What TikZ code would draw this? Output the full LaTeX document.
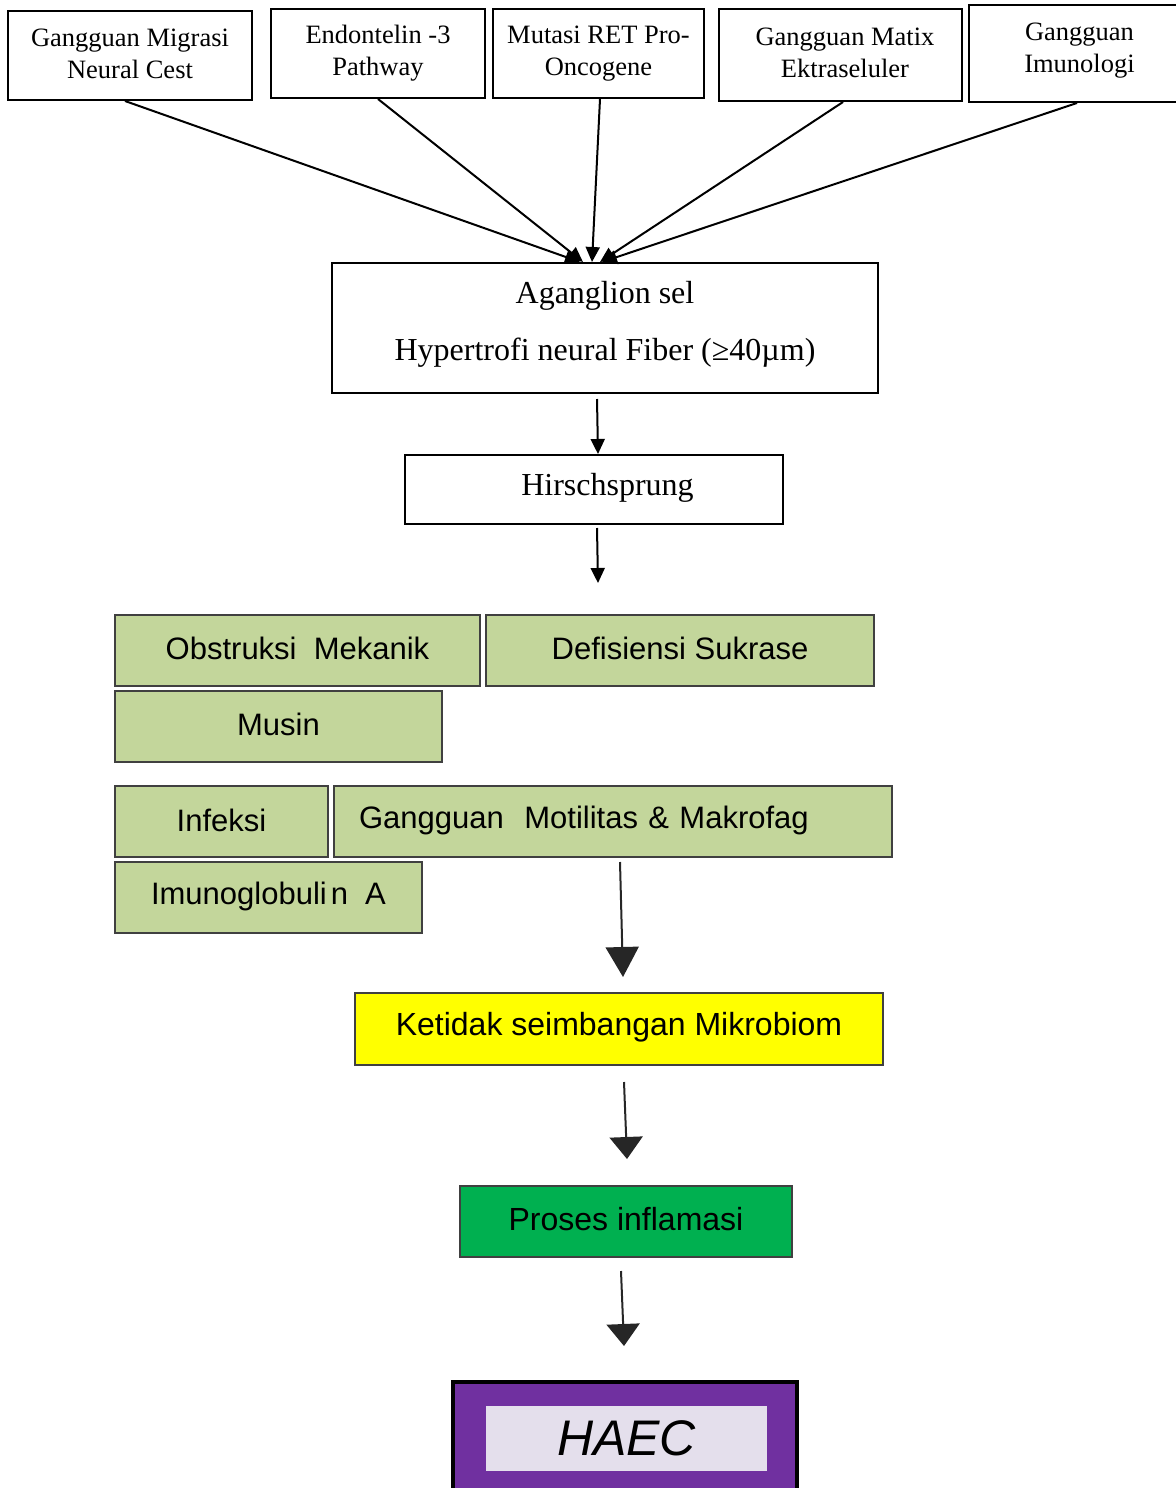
\documentclass[tikz,border=0pt]{standalone}
\usepackage{fontspec}
\setmainfont{Liberation Serif}
\newfontfamily\arialf{Liberation Sans}
\usetikzlibrary{arrows.meta}
\definecolor{olivebox}{HTML}{C3D69B}
\definecolor{yellowbox}{HTML}{FFFF00}
\definecolor{greenbox}{HTML}{00B050}
\definecolor{purplebox}{HTML}{7030A0}
\definecolor{lilacbox}{HTML}{E4DFEC}
\newcommand{\liftlines}[2]{\raisebox{#1}[\height][\depth]{\begin{tabular}{@{}c@{}}#2\end{tabular}}}
\newcommand{\lift}[2]{\raisebox{#1}[\height][\depth]{#2}}
\begin{document}
\begin{tikzpicture}[x=0.5pt,y=-0.5pt,
  topbox/.style={draw, line width=1pt, fill=white, inner sep=0pt, align=center,
    font=\fontsize{13.25}{16}\selectfont},
  midbox/.style={draw, line width=1pt, fill=white, inner sep=0pt, align=center,
    font=\fontsize{16}{28.5}\selectfont},
  oliveb/.style={draw=black!75, line width=1pt, fill=olivebox, inner sep=0pt,
    minimum height=35.5pt, font=\arialf\fontsize{15.5}{18}\selectfont},
  colb/.style={draw=black!75, line width=1pt, inner sep=0pt,
    font=\arialf\fontsize{16}{18}\selectfont},
  conn/.style={line width=1pt, -{Triangle[length=7.5pt,width=7pt]}},
  bigarrow/.style={line width=1pt, draw=black!85, -{Triangle[length=11pt,width=16.5pt]}},
  bigarrowlong/.style={line width=1pt, draw=black!85, -{Triangle[length=15pt,width=16.5pt]}}
]
\useasboundingbox (0,0) rectangle (1176,1488);
\clip (0,0) rectangle (1176,1488);

% top boxes
\node[topbox, minimum width=122pt, minimum height=44.5pt] (t1) at (130,55.5) {\liftlines{-0.5pt}{Gangguan Migrasi\\Neural Cest}};
\node[topbox, minimum width=107pt, minimum height=44.5pt] (t2) at (378,53.5) {\liftlines{0pt}{Endontelin -3\\Pathway}};
\node[topbox, minimum width=105.5pt, minimum height=44.5pt] (t3) at (598.5,53.5) {\liftlines{0pt}{Mutasi RET Pro-\\Oncogene}};
\node[topbox, minimum width=121.5pt, minimum height=46pt] (t4) at (840.5,55) {\liftlines{0pt}{\hspace*{4.5pt}Gangguan Matix\\\hspace*{4.5pt}Ektraseluler}};
\node[topbox, minimum width=106.5pt, minimum height=48.5pt] (t5) at (1075.5,53.5) {\liftlines{1.5pt}{\hspace*{4pt}Gangguan\\\hspace*{4pt}Imunologi}};

% central boxes
\node[midbox, minimum width=273pt, minimum height=65pt] (ag) at (605,328)
  {\liftlines{3.5pt}{Aganglion sel\\Hypertrofi neural Fiber (≥40µm)}};
\node[midbox, minimum width=189pt, minimum height=34.5pt] (hs) at (594,489.5) {\lift{1pt}{\hspace*{13.5pt}Hirschsprung}};
\coordinate (hsend) at (598,583);

% converging connectors
\draw[conn] ([xshift=-2.5pt]t1.south) -- ([xshift=-12.5pt]ag.north);
\draw[conn] (t2.south) -- ([xshift=-11pt]ag.north);
\draw[conn] ([xshift=0.75pt]t3.south) -- ([xshift=-6.5pt]ag.north);
\draw[conn] ([xshift=1.25pt]t4.south) -- ([xshift=-2.5pt]ag.north);
\draw[conn] ([xshift=0.75pt]t5.south) -- ([xshift=-1.5pt]ag.north);

\draw[conn] ([xshift=-4pt,yshift=-2.5pt]ag.south) -- ([xshift=2pt]hs.north);
\draw[conn] ([xshift=1.5pt,yshift=-1.5pt]hs.south) -- (hsend);

% olive boxes
\node[oliveb, minimum width=182.5pt] (g1) at (297.5,650.5) {\lift{1pt}{Obstruksi\ \ Mekanik}};
\node[oliveb, minimum width=194pt] (g2) at (680,650.5) {\lift{1pt}{Defisiensi Sukrase}};
\node[oliveb, minimum width=163.5pt] (g3) at (278.5,726.5) {\lift{1pt}{Musin}};
\node[oliveb, minimum width=106.5pt] (g4) at (221.5,821.5) {\lift{0.5pt}{Infeksi}};
\node[oliveb, text width=254pt, inner xsep=12.5pt, align=left] (g5) at (613,821.5) {\lift{0.5pt}{Gangguan\ \ Motilitas \& Makrofag}};
\node[oliveb, minimum width=153.5pt] (g6) at (268.5,897.5) {\lift{0.5pt}{Imunoglobuli\hspace{2pt}n\ \ A}};

% lower chain
\node[colb, fill=yellowbox, minimum width=264pt, minimum height=36pt] (ye) at (619,1029) {\lift{1pt}{Ketidak seimbangan Mikrobiom}};
\node[colb, fill=greenbox, minimum width=166pt, minimum height=35.5pt] (pr) at (626,1221.5) {\lift{1pt}{Proses inflamasi}};
\node[draw=black, line width=2pt, fill=purplebox, minimum width=172pt, minimum height=59pt, inner sep=0pt] (ha) at (625,1441) {};
\node[fill=lilacbox, minimum width=140.5pt, minimum height=32.5pt, inner sep=0pt,
  font=\arialf\itshape\fontsize{25}{28}\selectfont] (hi) at (626.5,1438.5) {HAEC};

\draw[bigarrowlong] ([xshift=3.5pt,yshift=-2pt]g5.south) -- ([xshift=2pt,yshift=7.5pt]ye.north);
\draw[bigarrow] ([xshift=2.5pt,yshift=-8pt]ye.south) -- ([xshift=0.5pt,yshift=13pt]pr.north);
\draw[bigarrow] ([xshift=-2.5pt,yshift=-6.5pt]pr.south) -- ([xshift=-0.5pt,yshift=17pt]ha.north);
\end{tikzpicture}
\end{document}
